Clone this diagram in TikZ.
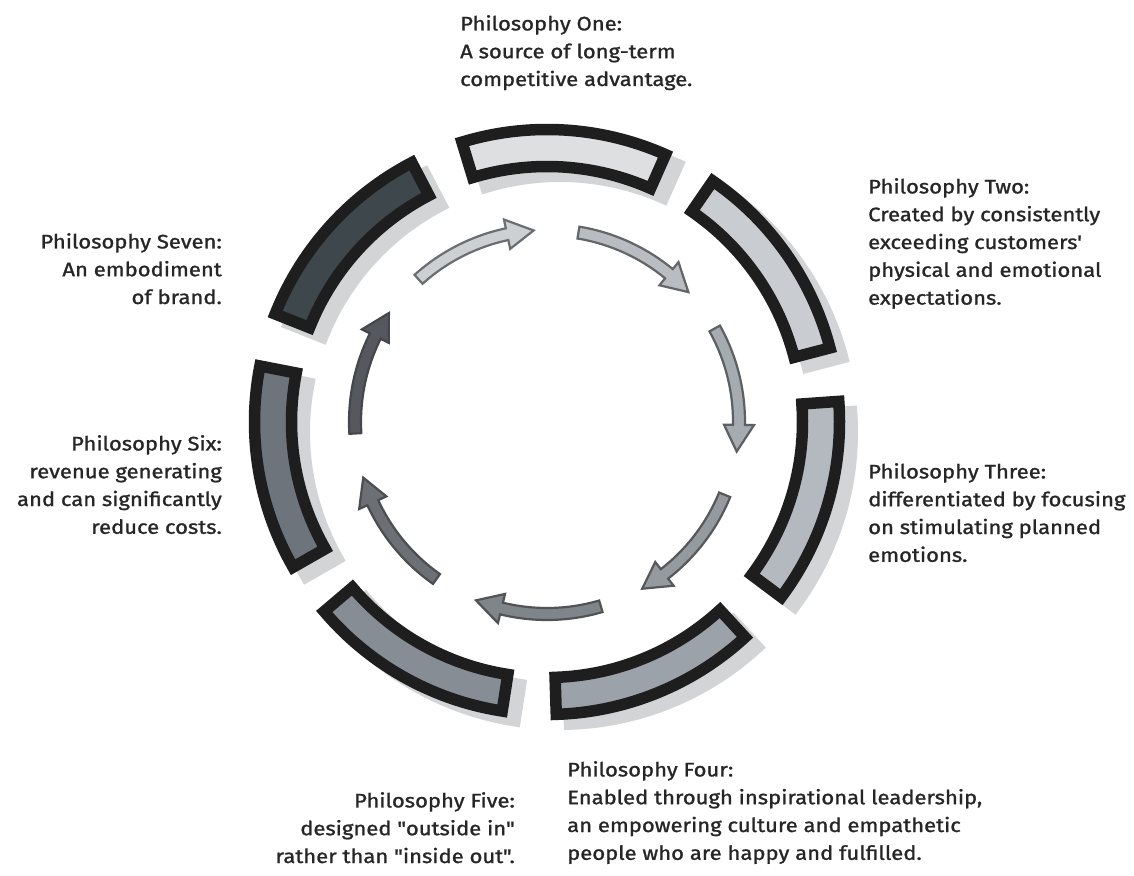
\documentclass[tikz,border=0pt]{standalone}
\usepackage{fontspec}
\newfontfamily\lblfont{Fira Sans}[FakeBold=1.2, FakeStretch=1.13]
\definecolor{bord}{HTML}{1E1E1E}
\definecolor{shad}{HTML}{D2D4D6}
\definecolor{txt}{HTML}{262626}
\definecolor{s1}{HTML}{DDDFE1}
\definecolor{s2}{HTML}{C9CDD1}
\definecolor{s3}{HTML}{B3B9BF}
\definecolor{s4}{HTML}{9CA2A9}
\definecolor{s5}{HTML}{868D94}
\definecolor{s6}{HTML}{6D747B}
\definecolor{s7}{HTML}{3E474B}
\definecolor{a1}{HTML}{CDD0D3}
\definecolor{a2}{HTML}{B9BDC1}
\definecolor{a3}{HTML}{A6ABB0}
\definecolor{a4}{HTML}{959A9F}
\definecolor{a5}{HTML}{80858A}
\definecolor{a6}{HTML}{6C7075}
\definecolor{a7}{HTML}{55595D}
\definecolor{ao1}{HTML}{6A6E72}
\definecolor{ao2}{HTML}{626669}
\definecolor{ao3}{HTML}{5C6064}
\definecolor{ao4}{HTML}{55595D}
\definecolor{ao5}{HTML}{505458}
\definecolor{ao6}{HTML}{4A4E52}
\definecolor{ao7}{HTML}{44484C}
\tikzset{
  segshadow/.style={fill=shad, draw=shad, line width=11pt, line join=miter},
  segbox/.style={draw=bord, line width=11.5pt, line join=miter},
  flowarrow/.style={line width=2.2pt, line join=miter},
  lbl/.style={inner sep=0pt, font=\lblfont\fontsize{19.5}{27.8}\selectfont, text=txt}
}
\begin{document}
\begin{tikzpicture}[x=1pt,y=1pt]
\useasboundingbox (0,0) rectangle (1134,875);
\fill[white] (0,0) rectangle (1134,875);
\begin{scope}[shift={(547pt,453pt)}]
% shadows
\foreach \k in {0,...,6} {
  \pgfmathsetmacro\ta{86.5-51.4286*\k-20.4}
  \pgfmathsetmacro\tb{86.5-51.4286*\k+20.4}
  \path[segshadow, shift={(13pt,-10pt)}] (\ta:292.5pt) arc[start angle=\ta, end angle=\tb, radius=292.5pt] -- (\tb:255.5pt) arc[start angle=\tb, end angle=\ta, radius=255.5pt] -- cycle;
}
% segments
\foreach \c [count=\k from 0] in {s1,s2,s3,s4,s5,s6,s7} {
  \pgfmathsetmacro\ta{86.5-51.4286*\k-20.4}
  \pgfmathsetmacro\tb{86.5-51.4286*\k+20.4}
  \path[segbox, fill=\c] (\ta:292.5pt) arc[start angle=\ta, end angle=\tb, radius=292.5pt] -- (\tb:255.5pt) arc[start angle=\tb, end angle=\ta, radius=255.5pt] -- cycle;
}
% inner arrows
\foreach \c/\o [count=\k from 0] in {a1/ao1,a2/ao2,a3/ao3,a4/ao4,a5/ao5,a6/ao6,a7/ao7} {
  \pgfmathsetmacro\ts{132-51.4286*\k}
  \pgfmathsetmacro\tt{\ts-38}
  \pgfmathsetmacro\th{\tt+8}
  \path[flowarrow, draw=\o, fill=\c] (\ts:198pt) arc[start angle=\ts, end angle=\th, radius=198pt] -- (\th:207pt) -- (\tt:192pt) -- (\th:177pt) -- (\th:186pt) arc[start angle=\th, end angle=\ts, radius=186pt] -- cycle;
}
\end{scope}
% labels
\node[lbl, anchor=north west, align=left] (p1) at (460,860) {Philosophy One:\\A source of long-term\\competitive advantage.};
\node[lbl, anchor=north west, align=left] (p2) at (868,697) {Philosophy Two:\\Created by consistently\\exceeding customers'\\physical and emotional\\expectations.};
\node[lbl, anchor=north west, align=left] (p3) at (868,412) {Philosophy Three:\\differentiated by focusing\\on stimulating planned\\emotions.};
\node[lbl, anchor=north west, align=left] (p4) at (567,114) {Philosophy Four:\\Enabled through inspirational leadership,\\an empowering culture and empathetic\\people who are happy and fulfilled.};
\node[lbl, anchor=north east, align=right] (p5) at (515,83) {Philosophy Five:\\designed "outside in"\\rather than "inside out".};
\node[lbl, anchor=north east, align=right] (p6) at (222,440) {Philosophy Six:\\revenue generating\\and can significantly\\reduce costs.};
\node[lbl, anchor=north east, align=right] (p7) at (222,642) {Philosophy Seven:\\An embodiment\\of brand.};
\end{tikzpicture}
\end{document}
